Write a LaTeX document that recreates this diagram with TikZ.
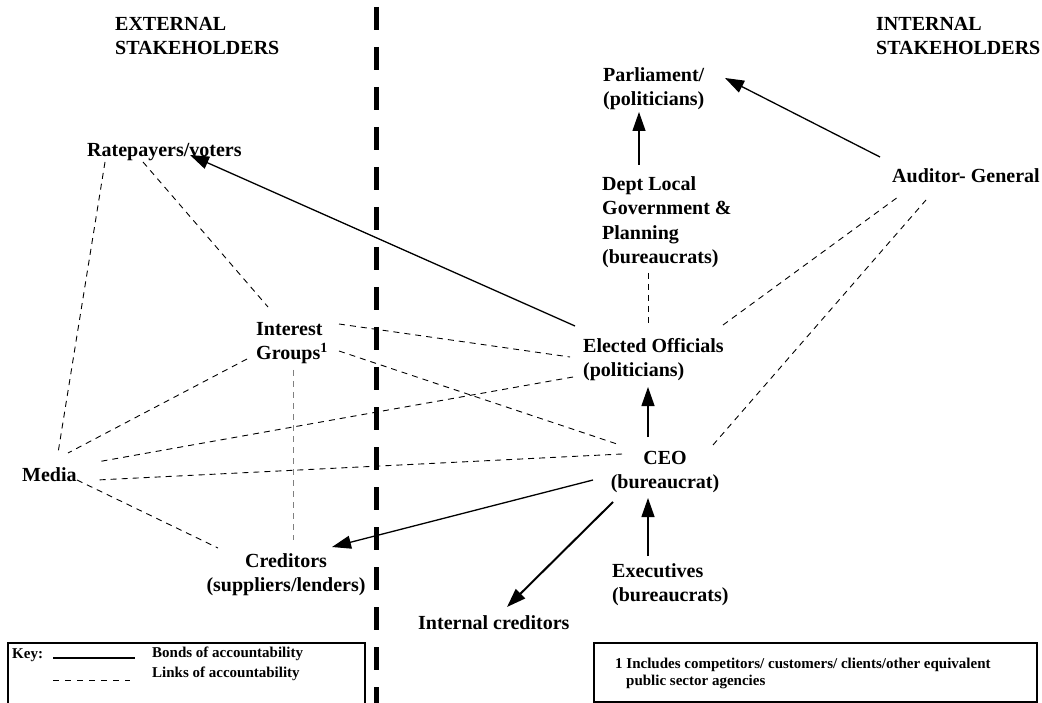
\documentclass[tikz,border=0pt]{standalone}
\usepackage{fontspec}
\setmainfont{Liberation Serif}
\usepackage{tikz}
\usetikzlibrary{arrows.meta,calc}

\begin{document}
\begin{tikzpicture}[x=1pt,y=-1pt,
    lbl/.style={font=\fontsize{20}{24.5}\selectfont\bfseries, align=left, anchor=north west, inner sep=0pt},
    keytxt/.style={font=\fontsize{15}{17}\selectfont\bfseries, align=left, anchor=north west, inner sep=0pt},
    bond/.style={line width=1.3pt, -{Triangle[length=19pt,width=13pt]}},
    link/.style={line width=0.9pt, dash pattern=on 6pt off 5pt}]
\useasboundingbox (0,0) rectangle (1042,703);

% Divider
\draw[line width=5pt, dash pattern=on 23pt off 17pt] (376,7) -- (376,712);

% Headings
\node[lbl] (ext) at (115,17) {EXTERNAL\\STAKEHOLDERS};
\node[lbl] (int) at (876,17) {INTERNAL\\STAKEHOLDERS};

% Stakeholders
\node[lbl] (parl) at (603,67) {Parliament/\\(politicians)};
\node[lbl] (dept) at (602,176) {Dept Local\\Government \&\\Planning\\(bureaucrats)};
\node[lbl] (aud) at (892,168) {Auditor- General};
\node[lbl] (rate) at (87,143) {Ratepayers/voters};
\node[lbl] (intg) at (256,322) {Interest\\Groups\textsuperscript{1}};
\node[lbl] (elect) at (583,338) {Elected Officials\\(politicians)};
\node[lbl] (media) at (22,467) {Media};
\node[lbl, align=center, anchor=north] (ceo) at (665,451) {CEO\\(bureaucrat)};
\node[lbl, align=center, anchor=north] (cred) at (286,553) {Creditors\\(suppliers/lenders)};
\node[lbl] (intc) at (418,615) {Internal creditors};
\node[lbl] (exec) at (612,563) {Executives\\(bureaucrats)};

% Bonds
\draw[bond] ($(dept.north west)+(37,-11)$) -- ($(parl.north west)+(36,45)$);
\draw[bond] ($(aud.north west)+(-12,-11)$) -- ($(parl.north west)+(122,11)$);
\draw[bond] ($(elect.north west)+(-8,-12)$) -- ($(rate.north west)+(103,12)$);
\draw[bond] ($(ceo.north)+(-17,-14)$) -- ($(elect.north west)+(65,49)$);
\draw[bond] ($(exec.north west)+(36,-7)$) -- ($(ceo.north)+(-17,47)$);
\draw[bond] ($(ceo.north)+(-72,29)$) -- ($(cred.north)+(46,-6)$);
\draw[bond, line width=2pt] ($(ceo.north)+(-52,51)$) -- ($(intc.north west)+(89,-8)$);

% Links
\draw[link] ($(rate.north west)+(18,19)$) -- ($(media.north west)+(36,-14)$);
\draw[link] ($(rate.north west)+(56,19)$) -- ($(intg.north west)+(12,-15)$);
\draw[link] ($(intg.north west)+(83,2)$) -- ($(elect.north west)+(-13,19)$);
\draw[link] ($(intg.north west)+(83,29)$) -- ($(ceo.north)+(-45,-6)$);
\draw[link] ($(intg.north west)+(-9,37)$) -- ($(media.north west)+(46,-14)$);
\draw[link, gray] ($(intg.north west)+(37,48)$) -- ($(cred.north)+(7,-13)$);
\draw[link] ($(elect.north west)+(-10,39)$) -- ($(media.north west)+(75,-5)$);
\draw[link] ($(ceo.north)+(-43,3)$) -- ($(media.north west)+(75,13)$);
\draw[link] ($(media.north west)+(55,13)$) -- ($(cred.north)+(-68,-5)$);
\draw[link] ($(dept.north west)+(46,97)$) -- ($(elect.north west)+(65,-13)$);
\draw[link] ($(elect.north west)+(140,-13)$) -- ($(aud.north west)+(6,29)$);
\draw[link] ($(ceo.north)+(48,-6)$) -- ($(aud.north west)+(34,32)$);

% Key
\draw[line width=1.2pt] (8,715) -- (8,643) -- (365,643) -- (365,715);
\node[keytxt] (key) at (12,648) {Key:};
\draw[line width=1.2pt] (53,658) -- (135,658);
\node[keytxt] (bonds) at (152,647) {Bonds of accountability};
\draw[line width=0.9pt, dash pattern=on 6pt off 6pt] (53,680) -- (130,680);
\node[keytxt] (links) at (152,667) {Links of accountability};

% Footnote
\draw[line width=1.2pt] (594,643) rectangle (1037,702);
\node[keytxt] (note) at (615,658) {1 Includes competitors/ customers/ clients/other equivalent\\\hspace*{11pt}public sector agencies};
\end{tikzpicture}
\end{document}
